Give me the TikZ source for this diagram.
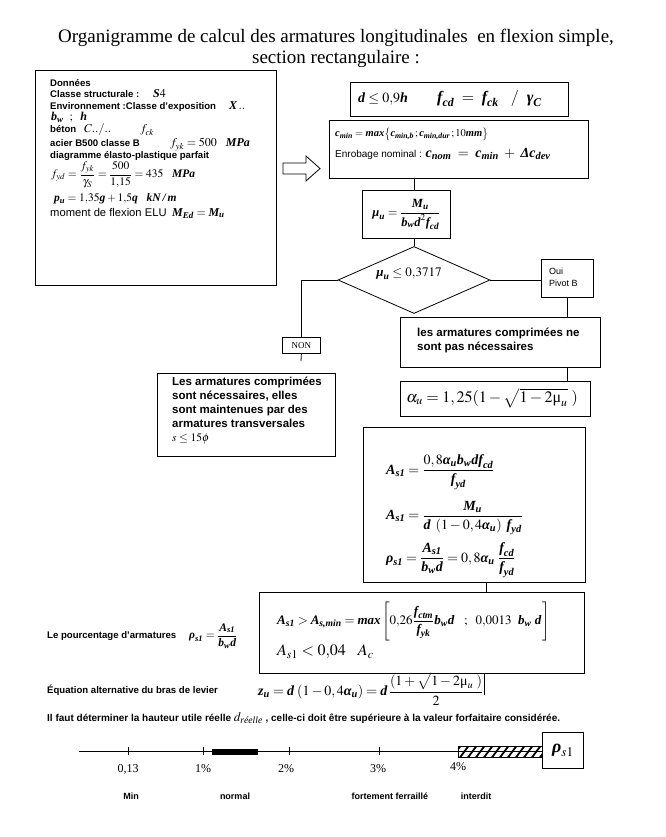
\documentclass[tikz,border=0pt]{standalone}
\usepackage{amsmath}
\usepackage{mathptmx}
\usepackage[no-math]{fontspec}
\setmainfont{Liberation Serif}
\setsansfont{Liberation Sans}
\usetikzlibrary{shapes.geometric}
\newcommand\B[1]{\text{\normalfont\bfseries\itshape #1}}
\newcommand\umu{\text{\normalfont μ}}
\begin{document}
\begin{tikzpicture}[x=1pt,y=-1pt,
  bx/.style={draw, line width=0.8pt, inner sep=0pt, anchor=north west},
  ln/.style={line width=0.8pt},
  sb/.style={font=\sffamily\bfseries\fontsize{9.6}{12}\selectfont, inner sep=0pt, anchor=base west},
  sr/.style={font=\sffamily\fontsize{11.2}{13}\selectfont, inner sep=0pt, anchor=base west},
  dm/.style={font=\fontsize{12}{14}\selectfont, inner sep=0pt, anchor=base west},
  sbs/.style={font=\sffamily\bfseries\fontsize{9.6}{12}\selectfont, inner sep=0pt, anchor=west},
  sbig/.style={font=\sffamily\bfseries\fontsize{11.5}{14}\selectfont, inner sep=0pt, align=left},
  fm/.style={font=\fontsize{14}{16}\selectfont, inner sep=0pt, anchor=west},
  tk/.style={font=\fontsize{12}{14}\selectfont, inner sep=0pt},
  lb/.style={font=\sffamily\bfseries\fontsize{9}{11}\selectfont, inner sep=0pt}]
\useasboundingbox (0,0) rectangle (665,837);

% title
\node[font=\fontsize{19}{22}\selectfont, inner sep=0pt] (t1) at (336,38) {Organigramme de calcul des armatures longitudinales\ \ en flexion simple,};
\node[font=\fontsize{19}{22}\selectfont, inner sep=0pt] (t2) at (336,59) {section rectangulaire :};

% data box
\node[bx, minimum width=241, minimum height=215] (data) at (35,70) {};
\node[sb] (d1) at (50,87) {Données};
\node[sb] (d2) at (50,98) {Classe structurale :};
\node[dm] (d2m) at (153,98) {$\B{S}4$};
\node[sb] (d3) at (50,110) {Environnement :Classe d'exposition};
\node[dm] (d3m) at (229,110) {$\B{X}\,..$};
\node[dm] (d4) at (51,121) {$\B{b}_{\B{w}}\ \ ;\ \ \B{h}$};
\node[sb] (d5) at (50,133) {béton};
\node[dm] (d5m) at (84,133) {$C../..$};
\node[dm] (d5f) at (140,133) {$f_{ck}$};
\node[sb] (d6) at (50,147) {acier B500 classe B};
\node[dm] (d6m) at (170,147) {$f_{yk}=500\ \ \ \B{MPa}$};
\node[sb] (d7) at (50,159) {diagramme élasto-plastique parfait};
\node[dm, anchor=west, font=\fontsize{11.5}{13}\selectfont] (d8) at (51,175) {$f_{yd}=\dfrac{f_{yk}}{\gamma_S}=\dfrac{500}{1{,}15}=435\ \ \ \B{MPa}$};
\node[dm, font=\fontsize{11.5}{13}\selectfont] (d9) at (54,201) {$\B{p}_{\B{u}}=1{,}35\B{g}+1{,}5\B{q}\ \ \ \B{kN\,/\,m}$};
\node[sr] (d10) at (50,216) {moment de flexion ELU};
\node[dm] (d10m) at (172,216) {$\B{M}_{\B{Ed}}=\B{M}_{\B{u}}$};

% arrow
\draw[ln] (283,163) -- (306,163) -- (306,156) -- (320,168.5) -- (306,181) -- (306,174) -- (283,174) -- cycle;

% d box
\node[bx, minimum width=218, minimum height=34] (dbox) at (350,82) {};
\node[font=\fontsize{14}{16}\selectfont, inner sep=0pt, anchor=west] (dtx) at (358,99) {$\B{d}\le 0{,}9\B{h}$};
\node[font=\fontsize{16}{18}\selectfont, inner sep=0pt, anchor=west] (ftx) at (437,99) {$\B{f}_{\B{cd}}\ =\ \B{f}_{\B{ck}}\ \ \ /\ \ \B{γ}_{\B{C}}$};

% c box
\node[bx, minimum width=259, minimum height=58] (cbox) at (329,120) {};
\node[font=\fontsize{10.5}{12}\selectfont, inner sep=0pt, anchor=west] (c1) at (335,134) {$\B{c}_{\B{min}}=\B{max}\big\{\B{c}_{\B{min,b}}\,;\B{c}_{\B{min,dur}}\,;10\B{mm}\big\}$};
\node[font=\sffamily\fontsize{10}{13}\selectfont, inner sep=0pt, anchor=west] (c2) at (335,154) {Enrobage nominal : {\rmfamily\fontsize{14}{15}\selectfont$\B{c}_{\B{nom}}\ =\ \B{c}_{\B{min}}\ +\ \B{Δc}_{\B{dev}}$}};

% mu box
\node[bx, minimum width=88, minimum height=48] (mubox) at (362,190) {};
\node[font=\fontsize{12.5}{14}\selectfont, inner sep=0pt] (mutx) at (mubox.center) {$\B{μ}_{\B{u}}=\dfrac{\B{M}_{\B{u}}}{\B{b}_{\B{w}}\B{d}^{2}\B{f}_{\B{cd}}}$};

% diamond
\node[draw, diamond, line width=0.8pt, minimum width=152, minimum height=67, inner sep=0pt] (dia) at (414,280) {};
\node[font=\fontsize{13}{15}\selectfont, inner sep=0pt] (diatx) at (409,274) {$\B{μ}_{\B{u}}\le 0{,}3717$};

% oui
\node[bx, minimum width=52, minimum height=38] (oui) at (541,259) {};
\node[font=\sffamily\fontsize{9}{12}\selectfont, inner sep=0pt, anchor=west, align=left] (ouitx) at (549,277) {Oui\\Pivot B};

% pas necessaires
\node[bx, minimum width=200, minimum height=50] (pasnec) at (400,317) {};
\node[sbig, anchor=west] (pastx) at (417,340) {les armatures comprimées ne\\sont pas nécessaires};

% alpha
\node[bx, minimum width=190, minimum height=35] (alpha) at (400,381) {};
\node[font=\fontsize{16}{18}\selectfont, inner sep=0pt] (alphatx) at (492,398) {$\alpha_u=1,25(1-\sqrt{1-2\umu_u}\ )$};

% NON
\node[bx, minimum width=38, minimum height=16] (non) at (282,337) {};
\node[font=\fontsize{9}{10}\selectfont, inner sep=0pt] (nontx) at (non.center) {NON};

% necessaires
\node[bx, minimum width=178, minimum height=83] (nec) at (157,373) {};
\node[sbig, anchor=north west] (nectx) at (172,377) {Les armatures comprimées\\sont nécessaires, elles\\sont maintenues par des\\armatures transversales\\{\rmfamily\mdseries $s\le 15\phi$}};

% As box
\node[bx, minimum width=222, minimum height=155] (asbox) at (363,427) {};
\node[fm] (a1) at (386,472) {$\B{A}_{\B{s1}}=\dfrac{0,8\B{α}_{\B{u}}\B{b}_{\B{w}}\B{df}_{\B{cd}}}{\B{f}_{\B{yd}}}$};
\node[fm] (a2) at (386,518) {$\B{A}_{\B{s1}}=\dfrac{\B{M}_{\B{u}}}{\B{d}\ \left(1-0,4\B{α}_{\B{u}}\right)\ \B{f}_{\B{yd}}}$};
\node[fm] (a3) at (386,560) {$\B{ρ}_{\B{s1}}=\dfrac{\B{A}_{\B{s1}}}{\B{b}_{\B{w}}\B{d}}=0,8\B{α}_{\B{u}}\ \dfrac{\B{f}_{\B{cd}}}{\B{f}_{\B{yd}}}$};

% As min box
\node[bx, minimum width=325, minimum height=81] (asmin) at (259,592) {};
\node[font=\fontsize{13}{15}\selectfont, inner sep=0pt, anchor=west] (m1) at (277,621) {$\B{A}_{\B{s1}}>\B{A}_{\B{s,min}}=\B{max}\left[0{,}26\dfrac{\B{f}_{\B{ctm}}}{\B{f}_{\B{yk}}}\B{b}_{\B{w}}\B{d}\ \ \ ;\ \ 0{,}0013\ \ \B{b}_{\B{w}}\ \B{d}\,\right]$};
\node[font=\fontsize{16}{18}\selectfont, inner sep=0pt, anchor=west] (m2) at (277,652) {$A_{s1}<0{,}04\ \ \ A_c$};

% left texts
\node[sbs] (p1) at (47,636) {Le pourcentage d'armatures};
\node[font=\fontsize{11.5}{13}\selectfont, inner sep=0pt, anchor=west] (p1m) at (189,636) {$\B{ρ}_{\B{s1}}=\dfrac{\B{A}_{\B{s1}}}{\B{b}_{\B{w}}\B{d}}$};
\node[sbs] (p2) at (47,690) {Équation alternative du bras de levier};
\node[fm] (zu) at (258,689) {$\B{z}_{\B{u}}=\B{d}\,\left(1-0,4\B{α}_{\B{u}}\right)=\B{d}\,\dfrac{(1+\sqrt{1-2\umu_u}\ )}{2}$};
\node[sbs, font=\sffamily\bfseries\fontsize{10}{12}\selectfont] (p3) at (47,718) {Il faut déterminer la hauteur utile réelle {\rmfamily\mdseries\fontsize{13}{13}\selectfont$d_{\text{\normalfont\itshape réelle}}$} , celle-ci doit être supérieure à la valeur forfaitaire considérée.};

% connectors
\coordinate (colx) at (486,0);
\coordinate (zend) at (484,695);
\coordinate (nonend) at (301,361);
\draw[ln] (cbox.south -| dia.north) -- (mubox.north -| dia.north);
\draw[ln] (mubox.south -| dia.north) -- (dia.north);
\draw[ln] (dia.east) -- (dia.east -| oui.west);
\draw[ln] (oui.south) -- (oui.south |- pasnec.north);
\draw[ln] (pasnec.south -| oui.south) -- (alpha.north -| oui.south);
\draw[ln] (dia.west) -- (dia.west -| non.north) -- (non.north);
\draw[ln] (non.south) -- (nonend);
\draw[ln] (asbox.south -| colx) -- (asmin.north -| colx);
\draw[ln] (asmin.south -| zend) -- (zend);

% scale
\node[bx, minimum width=41, minimum height=36] (rho) at (542,732) {};
\node[font=\fontsize{18}{20}\selectfont, inner sep=0pt] (rhotx) at (rho.center) {$\B{ρ}_{s1}$};
\coordinate (sl) at (79,751);
\draw[ln] (sl) -- (sl -| rho.west);
\foreach \xx in {128,203,289,379} \draw[line width=0.7pt] (\xx,747) -- (\xx,755);
\fill (212,748.5) rectangle (258,754.5);
\begin{scope}
\clip (458,746) rectangle (542,757);
\foreach \xx in {450,458,...,550} \draw[line width=1.8pt] (\xx,760) -- ++(12,-16);
\end{scope}
\draw[line width=0.7pt] (458,746) rectangle (542,757);
\node[tk] (l1) at (128,769) {0,13};
\node[tk] (l2) at (203,769) {1\%};
\node[tk] (l3) at (286,769) {2\%};
\node[tk] (l4) at (378,769) {3\%};
\node[tk] (l5) at (458,767) {4\%};
\node[lb] (n1) at (131,796) {Min};
\node[lb] (n2) at (235,796) {normal};
\node[lb] (n3) at (390,796) {fortement ferraillé};
\node[lb] (n4) at (476,796) {interdit};
\end{tikzpicture}
\end{document}
